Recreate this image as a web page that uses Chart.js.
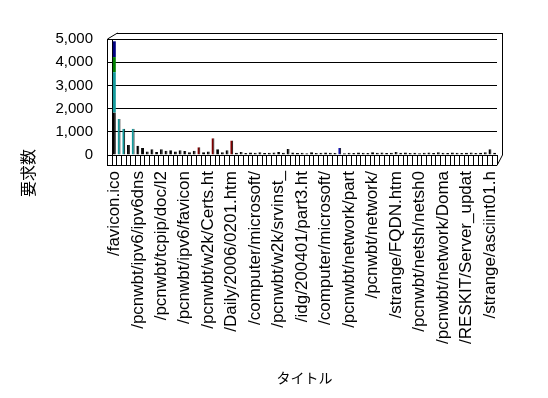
<!DOCTYPE html>
<html>
<head>
<meta charset="utf-8">
<script src="https://cdn.jsdelivr.net/npm/chart.js@4.4.1/dist/chart.umd.min.js"></script>
<style>
html,body{margin:0;padding:0;background:#fff;}
#wrap{width:548px;height:398px;}
</style>
</head>
<body>
<div id="wrap"><canvas id="c" width="548" height="398"></canvas></div>
<script>
// Visible tick labels (every 5th category)
const shownLabels = [
  "/favicon.ico", "/pcnwbt/ipv6/ipv6dns", "/pcnwbt/tcpip/doc/l2", "/pcnwbt/ipv6/favicon",
  "/pcnwbt/w2k/Certs.ht", "/Daily/2006/0201.htm", "/computer/microsoft/", "/pcnwbt/w2k/srvinst_",
  "/idg/200401/part3.ht", "/computer/microsoft/", "/pcnwbt/network/part", "/pcnwbt/network/",
  "/strange/FQDN.htm", "/pcnwbt/netsh/netsh0", "/pcnwbt/network/Doma", "/RESKIT/Server_updat",
  "/strange/asciint01.h"
];
// Request counts per title (main series)
const requests = [
  1830, 1550, 1130, 430, 1130, 400, 300, 150, 250, 130,
  250, 180, 200, 150, 200, 170, 120, 180, 330, 120,
  150, 720, 250, 120, 200, 620, 100, 130, 90, 110,
  100, 120, 90, 100, 110, 130, 100, 260, 110, 90,
  100, 80, 120, 90, 100, 110, 100, 90, 300, 80,
  100, 90, 110, 100, 90, 120, 100, 110, 90, 100,
  130, 100, 110, 90, 100, 80, 100, 110, 90, 120,
  100, 90, 110, 100, 90, 100, 110, 90, 100, 120,
  250, 100
];
// Upper stacked segments of the first bar
const segTeal = [1740];
const segGreen = [650];
const segNavy = [680];
const yTicks = [0, 1000, 2000, 3000, 4000, 5000];

const categories = requests.map((_, i) => (i % 5 === 0 && shownLabels[i / 5] !== undefined) ? shownLabels[i / 5] : "");
const special = {1: "#149a9c", 2: "#149a9c", 4: "#149a9c", 18: "#800000", 21: "#800000", 25: "#800000", 48: "#1414a8"};
const mainColors = requests.map((_, i) => special[i] || "#000000");

const frame3d = {
  id: 'frame3d',
  afterDraw(chart) {
    const ctx = chart.ctx;
    const a = chart.chartArea;
    ctx.save();
    ctx.strokeStyle = '#000';
    ctx.lineWidth = 1;
    ctx.beginPath();
    const L = a.left - 5, T = a.top, B = a.bottom, R = a.right;
    // front left edge
    ctx.moveTo(L + 0.5, T); ctx.lineTo(L + 0.5, B + 10);
    // floor front line
    ctx.moveTo(L, B + 10.5); ctx.lineTo(R, B + 10.5);
    // top slant and wall top
    ctx.moveTo(L + 0.5, T); ctx.lineTo(L + 10.5, T - 6);
    ctx.moveTo(L + 10, T - 5.5); ctx.lineTo(R + 5, T - 5.5);
    // right wall
    ctx.moveTo(R + 5.5, T - 6); ctx.lineTo(R + 5.5, B);
    ctx.moveTo(R, B + 10.5); ctx.lineTo(R + 5.5, B);
    ctx.moveTo(a.left, B + 0.5); ctx.lineTo(L, B + 0.5);
    ctx.stroke();
    // y-axis title
    ctx.font = '16px "Noto Sans CJK JP"';
    ctx.fillStyle = '#000';
    ctx.textAlign = 'center';
    ctx.textBaseline = 'middle';
    ctx.translate(28, 173);
    ctx.rotate(-Math.PI / 2);
    ctx.fillText('要求数', 0, 0);
    ctx.restore();
  }
};

new Chart(document.getElementById('c'), {
  type: 'bar',
  data: {
    labels: categories,
    datasets: [
      {data: requests, backgroundColor: mainColors, borderColor: '#000', borderWidth: {right: 1, left: 0, top: 0, bottom: 0}, borderSkipped: false},
      {data: segTeal, backgroundColor: '#149a9c', borderWidth: 0},
      {data: segGreen, backgroundColor: '#008000', borderWidth: 0},
      {data: segNavy, backgroundColor: '#000080', borderWidth: 0}
    ]
  },
  options: {
    responsive: false,
    animation: false,
    devicePixelRatio: 1,
    layout: {padding: {left: 0, top: 39, right: 51, bottom: 0}},
    plugins: {legend: {display: false}, tooltip: {enabled: false}},
    datasets: {bar: {barPercentage: 0.62, categoryPercentage: 1}},
    scales: {
      x: {
        stacked: true,
        afterFit(s) { s.height = 243; },
        grid: {drawOnChartArea: false, drawTicks: true, tickLength: 10, color: '#000'},
        border: {display: true, color: '#000'},
        ticks: {
          autoSkip: false, maxRotation: 90, minRotation: 90, padding: 6,
          color: '#000', font: {family: 'Liberation Sans', size: 17},
          callback(v, i) { return categories[i]; }
        },
        title: {display: true, text: 'タイトル', color: '#000', font: {family: 'Noto Sans CJK JP', size: 14}, padding: {top: 0, bottom: 12}}
      },
      y: {
        stacked: true,
        min: 0, max: 5000,
        afterFit(s) { s.width = 112; },
        afterBuildTicks(s) { s.ticks = yTicks.map(v => ({value: v})); },
        grid: {color: '#000', drawTicks: true, tickLength: 5},
        border: {display: true, color: '#000'},
        ticks: {padding: 14, color: '#000', font: {family: 'Liberation Sans', size: 15}}
      }
    }
  },
  plugins: [frame3d]
});
</script>
</body>
</html>
